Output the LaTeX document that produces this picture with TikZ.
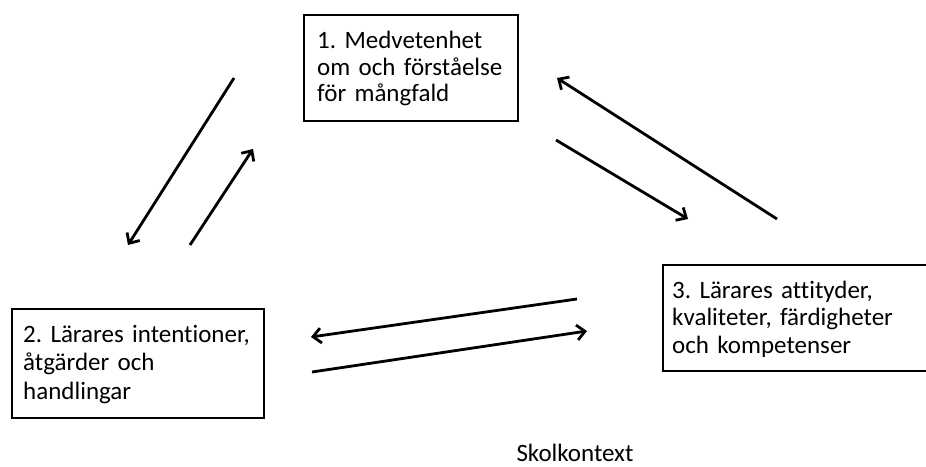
\documentclass[tikz,border=0pt]{standalone}
\usepackage{fontspec}
\setmainfont{Carlito}[Ligatures=NoCommon]
\usetikzlibrary{arrows.meta}
\begin{document}
\frenchspacing
\begin{tikzpicture}[x=1pt,y=-1pt,
  box/.style={draw=black,line width=1.6pt,anchor=north west,inner sep=0pt},
  txt/.style={anchor=base west,align=left,inner sep=0pt,text width=#1},
  arr/.style={line width=2.8pt,-{Straight Barb[length=8pt,width=15pt,line width=2.8pt]}}]
\useasboundingbox (0,0) rectangle (926,466);
\node[box,minimum width=214pt,minimum height=106pt] (b1) at (303,14) {};
\node[box,minimum width=252pt,minimum height=109pt] (b2) at (11,308) {};
\node[box,minimum width=280pt,minimum height=106pt] (b3) at (662,264) {};
\node[txt=195pt,font=\fontsize{25}{26.7}\selectfont] (t1) at (317,48.3) {1. Medvetenhet\\om och förståelse\\för mångfald};
\node[txt=240pt,font=\fontsize{25}{28.7}\selectfont] (t2) at (23,342) {2. Lärares intentioner,\\åtgärder och\\handlingar};
\node[txt=250pt,font=\fontsize{25}{27.5}\selectfont] (t3) at (672,298.3) {3. Lärares attityder,\\kvaliteter, färdigheter\\och kompetenser};
\node[font=\fontsize{25}{28}\selectfont,anchor=base,inner sep=0pt] (sk) at (575,461) {Skolkontext};
\coordinate (a1s) at (234,78); \coordinate (a1e) at (128,245);
\coordinate (a2s) at (190,245); \coordinate (a2e) at (253,149);
\coordinate (a3s) at (777,219); \coordinate (a3e) at (557,78);
\coordinate (a4s) at (556,140); \coordinate (a4e) at (688,219);
\coordinate (a5s) at (577,299); \coordinate (a5e) at (311,337);
\coordinate (a6s) at (312,372); \coordinate (a6e) at (587,331);
\draw[arr] (a1s) -- (a1e);
\draw[arr] (a2s) -- (a2e);
\draw[arr] (a3s) -- (a3e);
\draw[arr] (a4s) -- (a4e);
\draw[arr] (a5s) -- (a5e);
\draw[arr] (a6s) -- (a6e);
\end{tikzpicture}
\end{document}
